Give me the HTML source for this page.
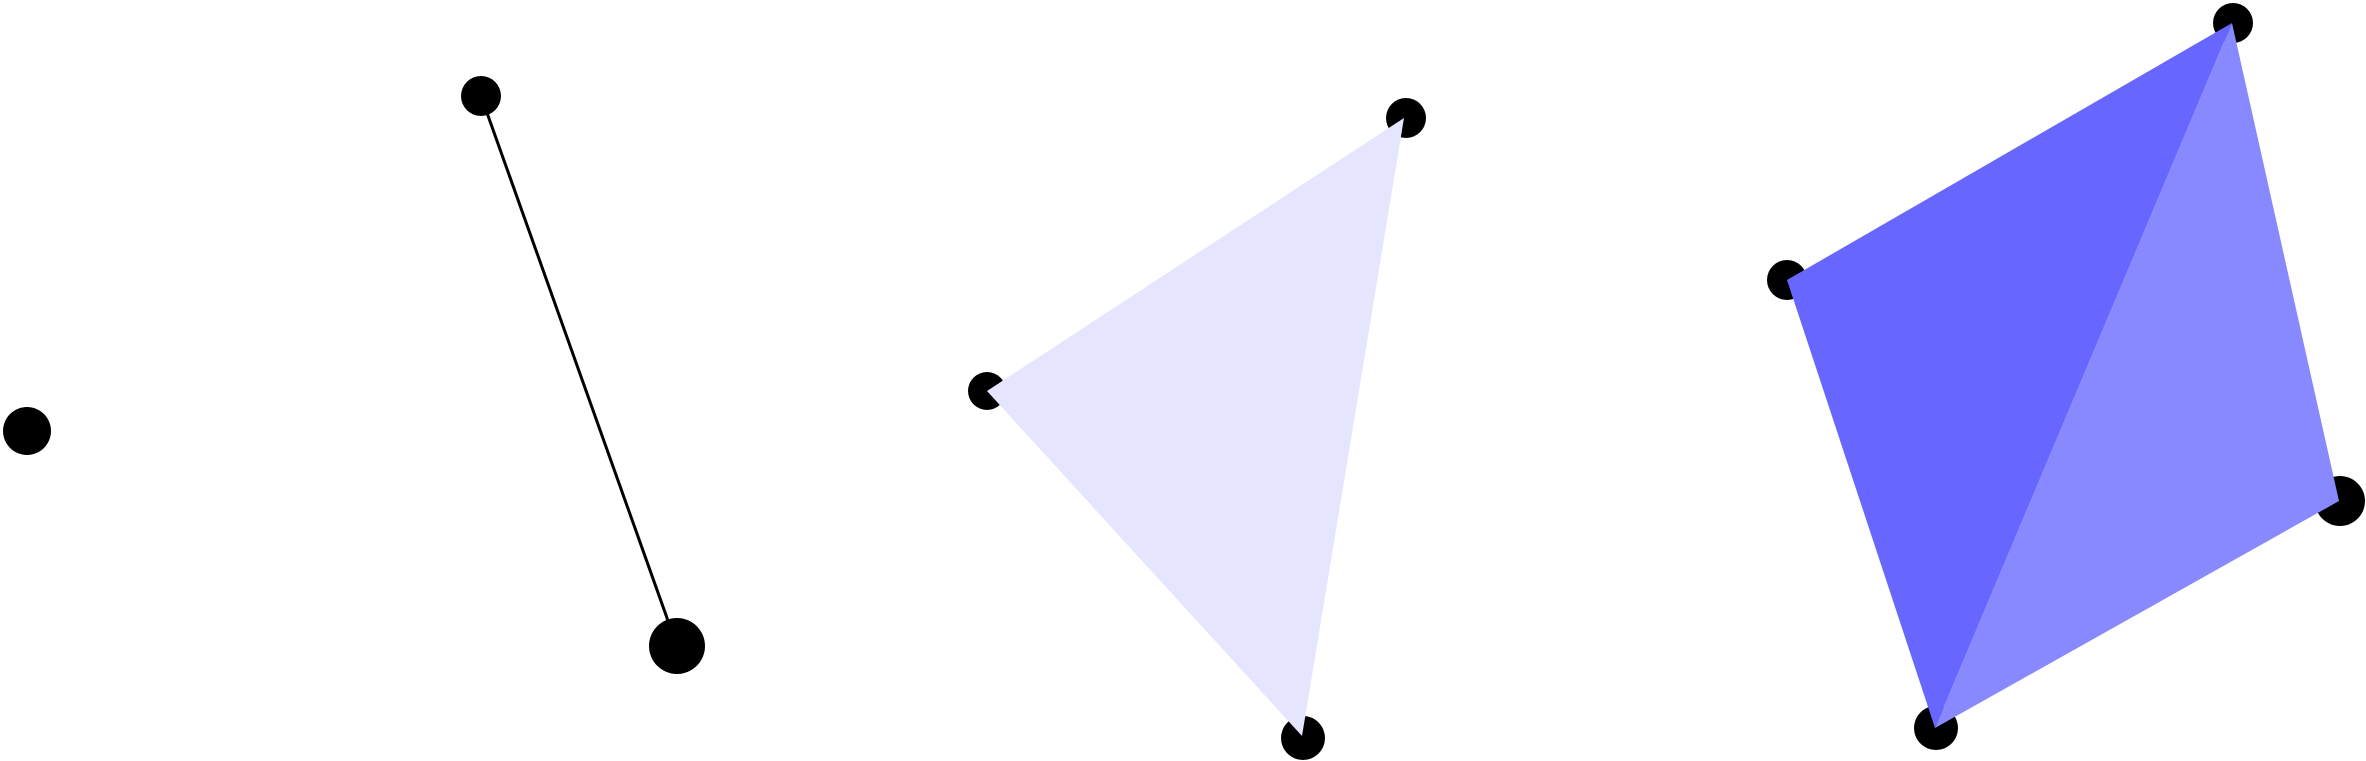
<!DOCTYPE html>
<html><head><meta charset="utf-8"><style>
html,body{margin:0;padding:0;background:#fff;}
svg{display:block;}
</style></head><body>
<svg id="chart" width="2366" height="761" viewBox="0 0 2366 761" xmlns="http://www.w3.org/2000/svg"></svg>
<script>
// point: [x, y, radius]
const pointA = [[27, 431, 24]];
const lineB = [[481, 96, 20], [677, 646, 28]];
const triC = [[1406, 118, 20], [987, 391, 19], [1303, 738, 22]];
const quadD = [[1787, 280, 20], [2233, 23, 20], [2340, 501, 25], [1936, 728, 22]];
const triCVerts = [[1404, 118], [987, 391], [1302, 736]];
const quadTri1 = [[1787, 280], [2232, 23], [1935, 728]];
const quadTri2 = [[2232, 23], [2339, 501], [1935, 728]];

const svg = document.getElementById('chart');
const NS = 'http://www.w3.org/2000/svg';
function dot(p, name) {
  const c = document.createElementNS(NS, 'circle');
  c.setAttribute('cx', p[0]); c.setAttribute('cy', p[1]); c.setAttribute('r', p[2]);
  c.setAttribute('fill', '#000');
  
  
  svg.appendChild(c);
}
function poly(pts, fill, name) {
  const p = document.createElementNS(NS, 'polygon');
  p.setAttribute('points', pts.map(q => q.join(',')).join(' '));
  p.setAttribute('fill', fill);
  
  
  svg.appendChild(p);
}
pointA.forEach(p => dot(p, 'vertex-point'));
lineB.forEach(p => dot(p, 'vertex-point'));
triC.forEach(p => dot(p, 'vertex-point'));
quadD.forEach(p => dot(p, 'vertex-point'));
const l = document.createElementNS(NS, 'line');
l.setAttribute('x1', lineB[0][0]); l.setAttribute('y1', lineB[0][1]);
l.setAttribute('x2', lineB[1][0]); l.setAttribute('y2', lineB[1][1]);
l.setAttribute('stroke', '#000'); l.setAttribute('stroke-width', '3');


svg.appendChild(l);
poly(triCVerts, '#e5e5ff', 'triangle-face');
poly(quadTri1, '#6767ff', 'quad-face-left');
poly(quadTri2, '#8888ff', 'quad-face-right');
</script>
</body></html>
